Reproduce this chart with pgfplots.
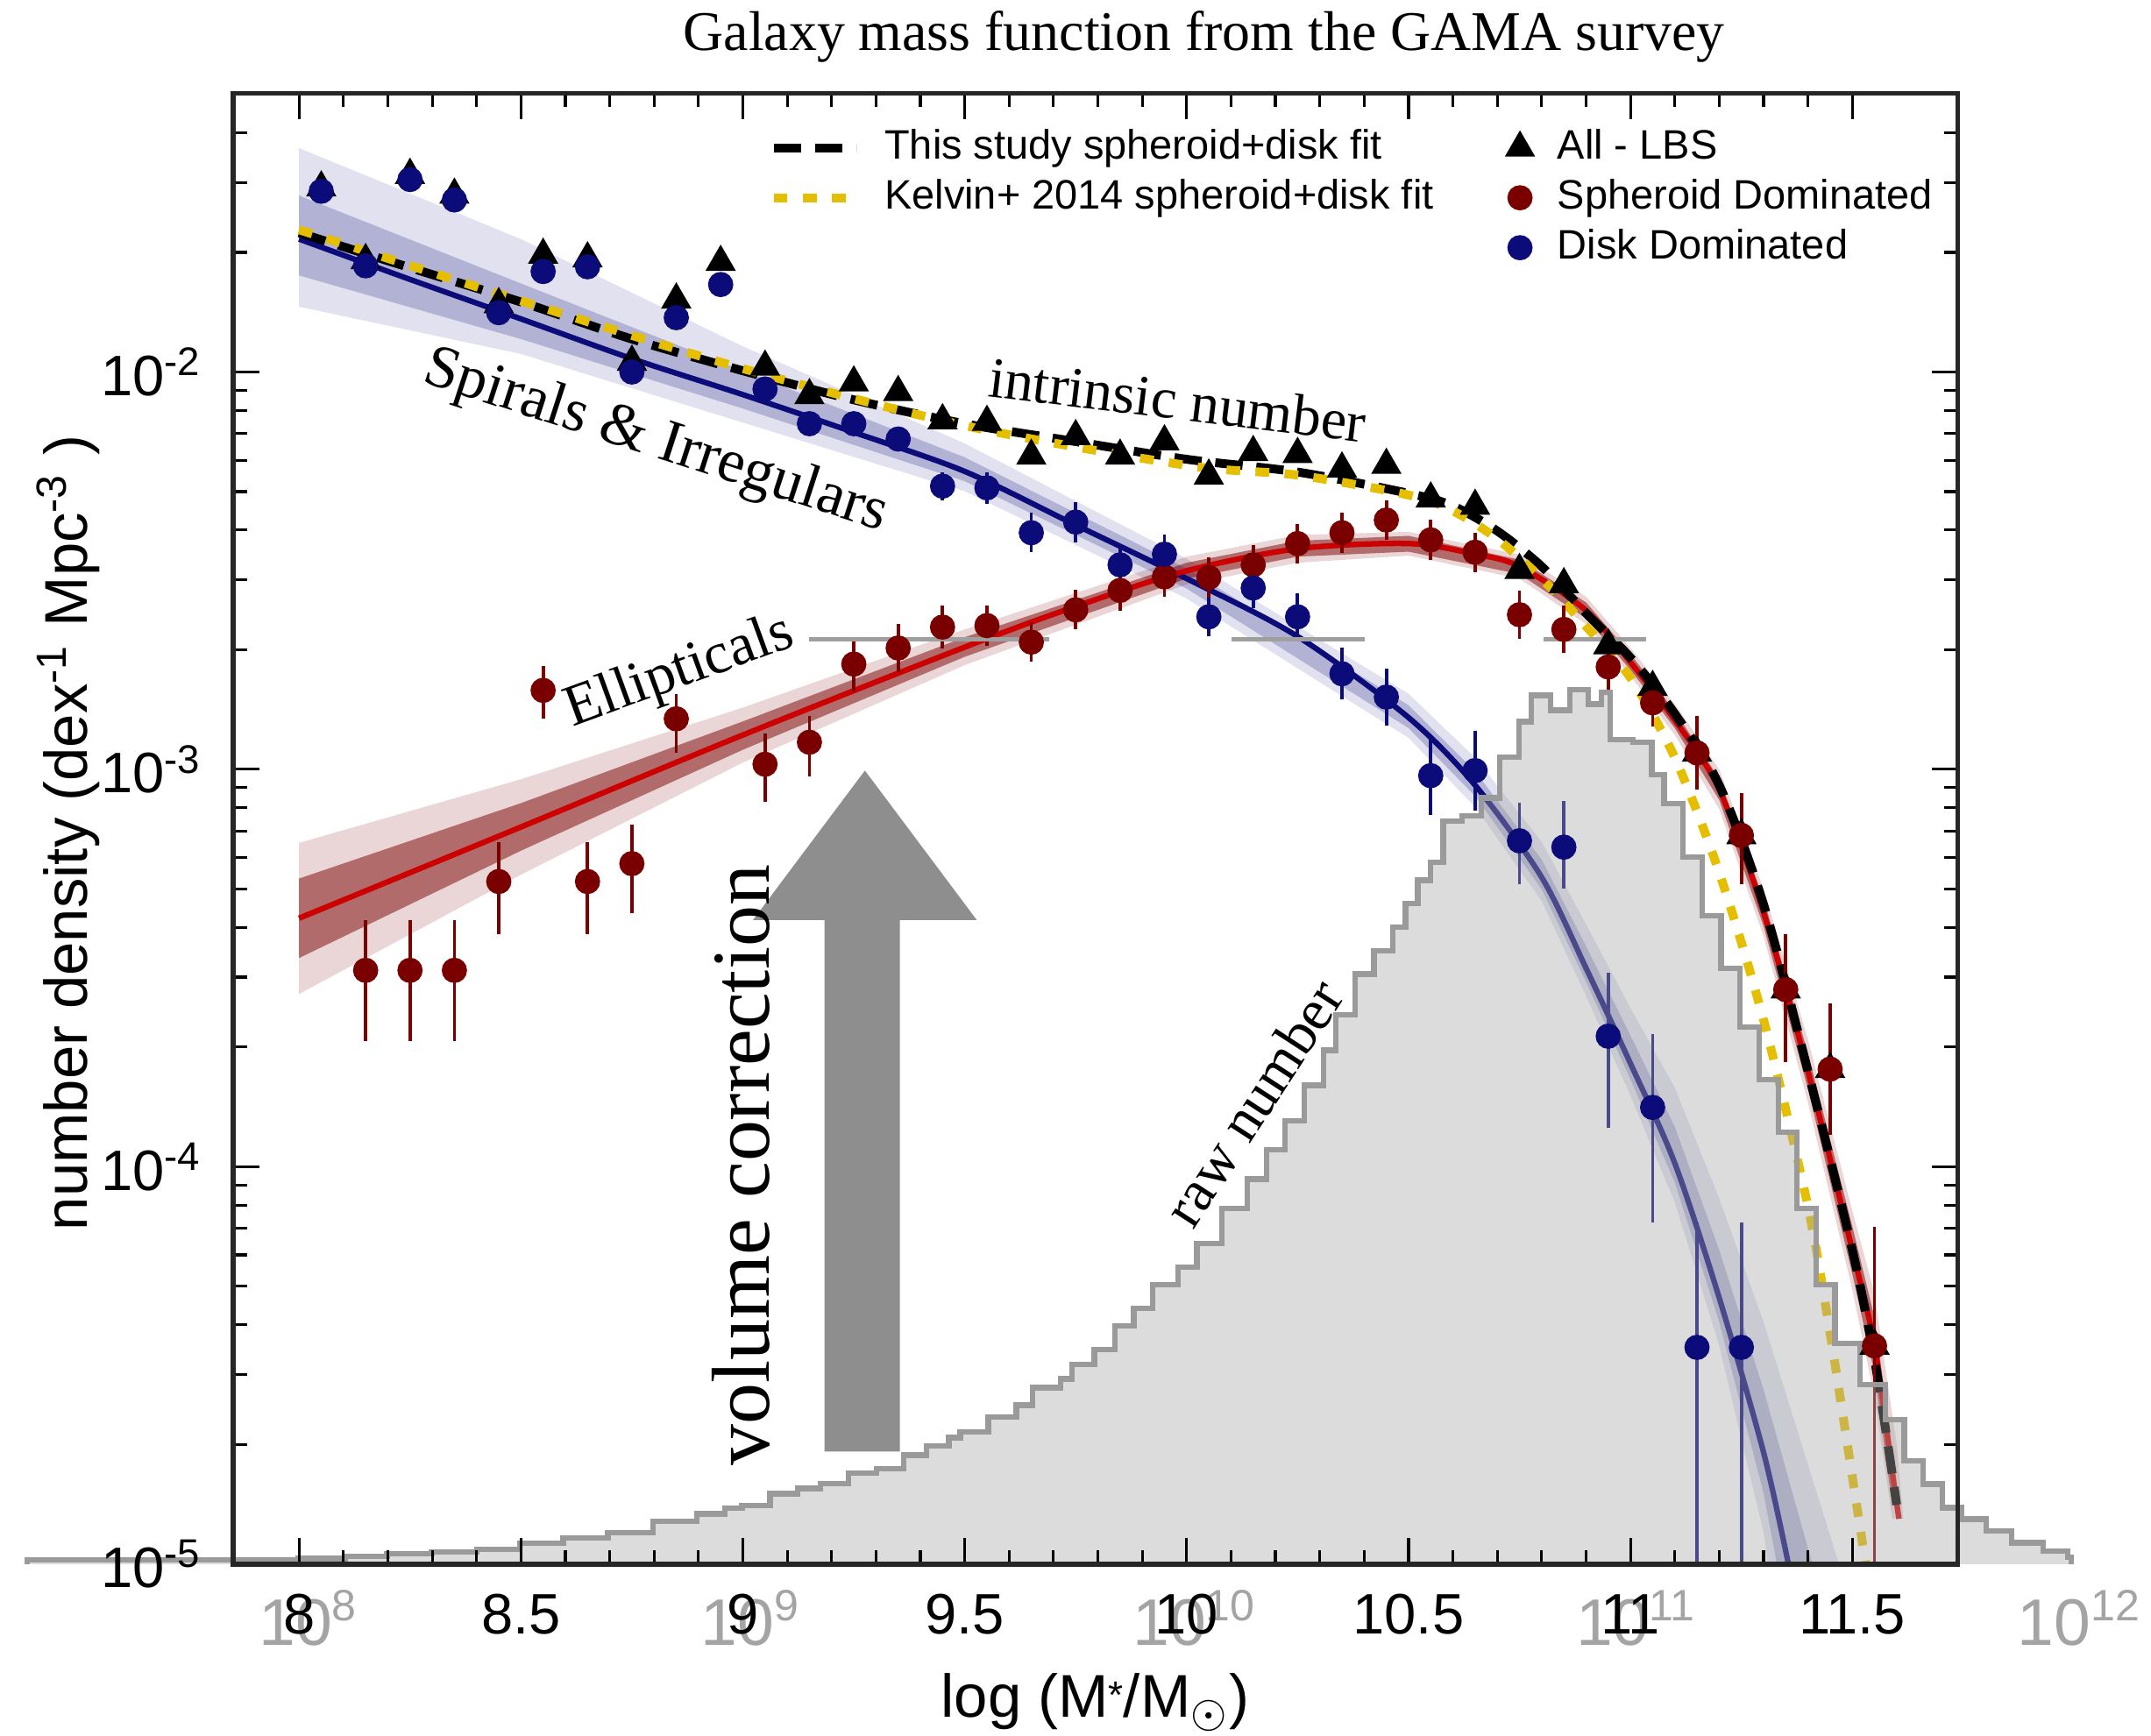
\documentclass[border=0pt]{standalone}
\usepackage{pgfplots}
\pgfplotsset{compat=1.18}
\usepackage{pgfplotstable}
\usepackage{fontspec}
\setmainfont{Liberation Serif}
\newfontfamily\sansf{Liberation Sans}
\definecolor{navyb}{HTML}{0B0B7A}
\definecolor{maroonr}{HTML}{7A0000}
\definecolor{redline}{HTML}{CC0000}
\definecolor{goldy}{HTML}{E6BE00}
\definecolor{histg}{HTML}{A8A8A8}
\definecolor{histline}{HTML}{9A9A9A}
\definecolor{arrowg}{HTML}{8E8E8E}
\definecolor{lab}{HTML}{A4A4A4}
\pgfplotsset{
  linelegend/.style={legend image code/.code={\draw[##1] (0pt,0pt) -- (15pt,0pt);}},
  marklegend/.style={legend image code/.code={\draw[##1] plot coordinates {(0pt,0pt)};}},
}

\pgfplotstableread{
x y
7.388 1.000e-5
7.388 1.023e-5
7.997 1.033e-5
8.104 1.047e-5
8.198 1.062e-5
8.299 1.074e-5
8.400 1.089e-5
8.498 1.127e-5
8.595 1.164e-5
8.696 1.199e-5
8.797 1.279e-5
8.897 1.337e-5
8.960 1.380e-5
8.998 1.406e-5
9.061 1.503e-5
9.124 1.549e-5
9.175 1.596e-5
9.238 1.694e-5
9.301 1.738e-5
9.363 1.879e-5
9.414 1.982e-5
9.464 2.080e-5
9.490 2.153e-5
9.553 2.344e-5
9.616 2.512e-5
9.653 2.780e-5
9.716 2.924e-5
9.741 3.184e-5
9.792 3.467e-5
9.838 3.981e-5
9.881 4.406e-5
9.923 5.047e-5
9.981 5.585e-5
10.023 6.397e-5
10.080 7.852e-5
10.137 9.311e-5
10.180 1.102e-4
10.222 1.306e-4
10.265 1.603e-4
10.308 1.963e-4
10.336 2.410e-4
10.379 3.055e-4
10.422 3.499e-4
10.464 4.009e-4
10.493 4.592e-4
10.521 5.260e-4
10.550 5.834e-4
10.578 7.396e-4
10.621 7.638e-4
10.664 8.472e-4
10.706 1.074e-3
10.749 1.318e-3
10.777 1.535e-3
10.820 1.409e-3
10.863 1.589e-3
10.905 1.459e-3
10.934 1.560e-3
10.955 1.189e-3
11.005 1.169e-3
11.048 9.705e-4
11.076 8.185e-4
11.119 6.026e-4
11.162 4.285e-4
11.204 3.162e-4
11.247 2.249e-4
11.290 1.656e-4
11.333 1.222e-4
11.375 7.852e-5
11.418 5.047e-5
11.461 3.589e-5
11.518 2.831e-5
11.575 2.307e-5
11.617 1.820e-5
11.660 1.589e-5
11.703 1.387e-5
11.746 1.297e-5
11.802 1.211e-5
11.859 1.132e-5
11.930 1.076e-5
11.986 1.040e-5
11.994 1.000e-5
}\histtab

\begin{document}
\begin{tikzpicture}
\begin{axis}[
  width=314.25pt, height=268.1pt, scale only axis,
  xmin=7.8516, xmax=11.7372,
  ymode=log, ymin=1e-5, ymax=0.0503,
  clip=false, axis on top,
  xtick={8,8.5,9,9.5,10,10.5,11,11.5},
  xticklabels={8,8.5,9,9.5,10,10.5,11,11.5},
  minor x tick num=4,
  ytick={1e-5,1e-4,1e-3,1e-2},
  yticklabels={10\textsuperscript{-5},10\textsuperscript{-4},10\textsuperscript{-3},10\textsuperscript{-2}},
  minor ytick={2e-5,3e-5,4e-5,5e-5,6e-5,7e-5,8e-5,9e-5,2e-4,3e-4,4e-4,5e-4,6e-4,7e-4,8e-4,9e-4,2e-3,3e-3,4e-3,5e-3,6e-3,7e-3,8e-3,9e-3,2e-2,3e-2,4e-2},
  tick label style={font=\sansf\fontsize{10.4}{12}\selectfont},
  xticklabel shift=2pt, yticklabel shift=2pt,
  major tick length=4.75pt, minor tick length=2.5pt,
  tick style={black, line width=0.5pt},
  axis line style={line width=0.9pt, black!85},
  xlabel={log (M\raisebox{0.3ex}{\scriptsize *}/M\textsubscript{$\odot$})},
  xlabel style={font=\sansf\fontsize{11}{13}\selectfont, at={(axis description cs:0.5,-0.0941)}, anchor=center},
  ylabel={number density (dex\textsuperscript{-1} Mpc\textsuperscript{-3} )},
  ylabel style={font=\sansf\fontsize{11}{13}\selectfont, at={(axis description cs:-0.0957,0.497)}, anchor=center},
  title={Galaxy mass function from the GAMA survey},
  every axis title shift=0pt,
  title style={font=\fontsize{10.2}{12}\selectfont, at={(axis description cs:0.563,1.0382)}, anchor=center},
  legend columns=2,
  legend cell align=left,
  legend style={draw=none, fill=none, inner sep=0pt, at={(rel axis cs:0.3103,0.980)}, anchor=north west,
    font=\sansf\fontsize{7.5}{9}\selectfont,
    nodes={inner sep=0.8pt, text height=5.6pt, text depth=1.6pt},
    row sep=0.3pt,
    /tikz/every odd column/.append style={column sep=3.6pt},
    /tikz/every even column/.append style={column sep=12.5pt}},
]
% ---- blue bands
\addplot[draw=none, fill=navyb, fill opacity=0.12, forget plot] coordinates {
(8.0,3.66e-2) (8.5,2.16e-2) (9.0,1.16e-2) (9.5,6.61e-3) (10.0,3.39e-3) (10.5,1.55e-3) (10.65,1.07e-3) (10.8,6.58e-4) (10.9,4.07e-4) (11.0,2.51e-4) (11.1,1.58e-4) (11.2,8.32e-5) (11.3,4.07e-5) (11.4,1.78e-5) (11.47,1e-5)
(11.31,1e-5) (11.3,1.20e-5) (11.2,3.55e-5) (11.1,8.13e-5) (11.0,1.51e-4) (10.9,2.69e-4) (10.8,4.66e-4) (10.65,8.04e-4) (10.5,1.20e-3) (10.0,2.69e-3) (9.5,5.01e-3) (9.0,7.46e-3) (8.5,1.11e-2) (8.0,1.46e-2)} --cycle;
\addplot[draw=none, fill=navyb, fill opacity=0.22, forget plot] coordinates {
(8.0,2.78e-2) (8.5,1.67e-2) (9.0,1.007e-2) (9.5,6.10e-3) (10.0,3.20e-3) (10.5,1.45e-3) (10.65,9.89e-4) (10.8,5.93e-4) (10.9,3.59e-4) (11.0,2.14e-4) (11.1,1.26e-4) (11.2,6.17e-5) (11.3,2.75e-5) (11.41,1e-5)
(11.33,1e-5) (11.3,1.51e-5) (11.2,4.07e-5) (11.1,9.12e-5) (11.0,1.66e-4) (10.9,2.92e-4) (10.8,4.99e-4) (10.65,8.57e-4) (10.5,1.27e-3) (10.0,2.85e-3) (9.5,5.31e-3) (9.0,8.09e-3) (8.5,1.21e-2) (8.0,1.75e-2)} --cycle;
% ---- red bands
\addplot[draw=none, fill=maroonr, fill opacity=0.16, forget plot] coordinates {
(8.0,6.53e-4) (8.5,9.44e-4) (9.0,1.43e-3) (9.5,2.25e-3) (10.0,3.43e-3) (10.25,3.89e-3) (10.5,3.96e-3) (10.75,3.47e-3) (10.9,2.72e-3) (11.0,2.02e-3) (11.1,1.46e-3) (11.2,1.00e-3) (11.3,5.01e-4) (11.4,2.09e-4) (11.5,7.76e-5) (11.55,4.79e-5) (11.6,2.0e-5) (11.615,1.3e-5)
(11.59,1.3e-5) (11.55,2.63e-5) (11.5,4.90e-5) (11.4,1.45e-4) (11.3,3.80e-4) (11.2,7.94e-4) (11.1,1.22e-3) (11.0,1.72e-3) (10.9,2.32e-3) (10.75,3.02e-3) (10.5,3.45e-3) (10.25,3.31e-3) (10.0,2.92e-3) (9.5,1.83e-3) (9.0,1.04e-3) (8.5,5.43e-4) (8.0,2.72e-4)} --cycle;
\addplot[draw=none, fill=maroonr, fill opacity=0.5, forget plot] coordinates {
(8.0,5.31e-4) (8.5,8.22e-4) (9.0,1.32e-3) (9.5,2.15e-3) (10.0,3.31e-3) (10.25,3.76e-3) (10.5,3.87e-3) (10.75,3.37e-3) (10.9,2.63e-3) (11.0,1.95e-3) (11.1,1.40e-3) (11.2,9.48e-4) (11.3,4.73e-4) (11.4,1.93e-4) (11.5,7.08e-5) (11.55,4.17e-5) (11.6,1.6e-5)
(11.59,1.4e-5) (11.55,3.02e-5) (11.5,5.37e-5) (11.4,1.57e-4) (11.3,4.03e-4) (11.2,8.38e-4) (11.1,1.27e-3) (11.0,1.78e-3) (10.9,2.40e-3) (10.75,3.10e-3) (10.5,3.53e-3) (10.25,3.43e-3) (10.0,3.02e-3) (9.5,1.92e-3) (9.0,1.12e-3) (8.5,6.24e-4) (8.0,3.35e-4)} --cycle;
% ---- fit lines
\addplot[navyb, line width=1pt, smooth, tension=0.5, forget plot] coordinates {
(8.0,2.16e-2) (8.25,1.71e-2) (8.5,1.36e-2) (8.75,1.08e-2) (9.0,8.77e-3) (9.25,7.05e-3) (9.5,5.62e-3) (9.75,4.12e-3) (10.0,3.02e-3) (10.25,2.16e-3) (10.5,1.35e-3) (10.65,9.12e-4) (10.8,5.35e-4) (10.9,3.16e-4) (11.0,1.82e-4) (11.1,1.02e-4) (11.2,4.68e-5) (11.3,1.91e-5) (11.356,1e-5)};
\addplot[redline, line width=1pt, smooth, tension=0.5, forget plot] coordinates {
(8.0,4.22e-4) (8.5,7.16e-4) (9.0,1.22e-3) (9.5,2.03e-3) (9.75,2.57e-3) (10.0,3.16e-3) (10.25,3.59e-3) (10.5,3.70e-3) (10.65,3.48e-3) (10.75,3.24e-3) (10.9,2.51e-3) (11.0,1.86e-3) (11.1,1.33e-3) (11.2,8.91e-4) (11.3,4.37e-4) (11.4,1.74e-4) (11.5,6.17e-5) (11.55,3.55e-5) (11.59,1.70e-5) (11.605,1.3e-5)};
\addplot[black, line width=1.6pt, dash pattern=on 5pt off 2.5pt, smooth, tension=0.5, forget plot] coordinates {
(8.0,2.24e-2) (8.25,1.83e-2) (8.5,1.50e-2) (8.75,1.21e-2) (9.0,1.007e-2) (9.25,8.51e-3) (9.5,7.41e-3) (9.75,6.68e-3) (10.0,6.03e-3) (10.25,5.60e-3) (10.5,4.95e-3) (10.6,4.60e-3) (10.7,3.98e-3) (10.8,3.24e-3) (10.9,2.47e-3) (11.0,1.91e-3) (11.1,1.38e-3) (11.2,9.12e-4) (11.3,4.57e-4) (11.4,1.74e-4) (11.5,6.17e-5) (11.55,3.27e-5) (11.58,2.0e-5) (11.6,1.41e-5)};
\addplot[goldy, line width=1.6pt, dash pattern=on 2.5pt off 2.8pt, smooth, tension=0.5, forget plot] coordinates {
(8.0,2.28e-2) (8.5,1.51e-2) (9.0,1.02e-2) (9.5,7.33e-3) (10.0,5.82e-3) (10.25,5.50e-3) (10.5,4.90e-3) (10.6,4.47e-3) (10.7,3.80e-3) (10.8,3.02e-3) (10.9,2.29e-3) (11.0,1.70e-3) (11.1,1.07e-3) (11.2,5.50e-4) (11.3,2.34e-4) (11.4,7.94e-5) (11.45,3.80e-5) (11.5,1.66e-5) (11.53,1.0e-5)};
% ---- error bars
\addplot[navyb, line width=0.6pt, unbounded coords=jump, forget plot] coordinates {
(9.45,4.76e-3) (9.45,5.60e-3) (9.45,nan)
(9.55,4.66e-3) (9.55,5.60e-3) (9.55,nan)
(9.65,3.52e-3) (9.65,4.43e-3) (9.65,nan)
(9.75,3.73e-3) (9.75,4.70e-3) (9.75,nan)
(9.85,2.91e-3) (9.85,3.66e-3) (9.85,nan)
(9.95,3.10e-3) (9.95,3.90e-3) (9.95,nan)
(10.05,2.16e-3) (10.05,2.72e-3) (10.05,nan)
(10.15,2.55e-3) (10.15,3.21e-3) (10.15,nan)
(10.25,2.11e-3) (10.25,2.78e-3) (10.25,nan)
(10.35,1.50e-3) (10.35,2.02e-3) (10.35,nan)
(10.45,1.29e-3) (10.45,1.79e-3) (10.45,nan)
(10.55,7.66e-4) (10.55,1.21e-3) (10.55,nan)
(10.65,7.89e-4) (10.65,1.25e-3) (10.65,nan)
(10.75,5.13e-4) (10.75,8.26e-4) (10.75,nan)
(10.85,5.01e-4) (10.85,8.32e-4) (10.85,nan)
(10.95,1.25e-4) (10.95,3.08e-4) (10.95,nan)
(11.05,7.23e-5) (11.05,2.16e-4) (11.05,nan)
(11.15,1e-5) (11.15,7.23e-5) (11.15,nan)
(11.25,1e-5) (11.25,7.23e-5)};
\addplot[maroonr, line width=0.6pt, unbounded coords=jump, forget plot] coordinates {
(8.15,2.07e-4) (8.15,4.18e-4) (8.15,nan)
(8.25,2.07e-4) (8.25,4.18e-4) (8.25,nan)
(8.35,2.07e-4) (8.35,4.18e-4) (8.35,nan)
(8.45,3.84e-4) (8.45,6.55e-4) (8.45,nan)
(8.55,1.34e-3) (8.55,1.82e-3) (8.55,nan)
(8.65,3.84e-4) (8.65,6.55e-4) (8.65,nan)
(8.75,4.34e-4) (8.75,7.26e-4) (8.75,nan)
(8.85,1.10e-3) (8.85,1.55e-3) (8.85,nan)
(9.05,8.28e-4) (9.05,1.23e-3) (9.05,nan)
(9.15,9.62e-4) (9.15,1.36e-3) (9.15,nan)
(9.25,1.57e-3) (9.25,2.12e-3) (9.25,nan)
(9.35,1.76e-3) (9.35,2.32e-3) (9.35,nan)
(9.45,2.01e-3) (9.45,2.59e-3) (9.45,nan)
(9.55,2.05e-3) (9.55,2.58e-3) (9.55,nan)
(9.65,1.87e-3) (9.65,2.35e-3) (9.65,nan)
(9.75,2.25e-3) (9.75,2.83e-3) (9.75,nan)
(9.85,2.51e-3) (9.85,3.16e-3) (9.85,nan)
(9.95,2.72e-3) (9.95,3.42e-3) (9.95,nan)
(10.05,2.71e-3) (10.05,3.41e-3) (10.05,nan)
(10.15,2.91e-3) (10.15,3.66e-3) (10.15,nan)
(10.25,3.30e-3) (10.25,4.15e-3) (10.25,nan)
(10.35,3.51e-3) (10.35,4.42e-3) (10.35,nan)
(10.45,3.78e-3) (10.45,4.75e-3) (10.45,nan)
(10.55,3.37e-3) (10.55,4.25e-3) (10.55,nan)
(10.65,3.13e-3) (10.65,3.94e-3) (10.65,nan)
(10.75,2.13e-3) (10.75,2.81e-3) (10.75,nan)
(10.85,1.96e-3) (10.85,2.59e-3) (10.85,nan)
(10.95,1.58e-3) (10.95,2.08e-3) (10.95,nan)
(11.05,1.28e-3) (11.05,1.68e-3) (11.05,nan)
(11.15,8.91e-4) (11.15,1.36e-3) (11.15,nan)
(11.25,5.13e-4) (11.25,8.73e-4) (11.25,nan)
(11.35,1.83e-4) (11.35,3.85e-4) (11.35,nan)
(11.45,1.20e-4) (11.45,2.57e-4) (11.45,nan)
(11.55,1e-5) (11.55,7.05e-5)};
% ---- markers
\addplot[only marks, mark=triangle*, mark size=2.8pt, black, forget plot] coordinates {
(8.05,2.91e-2) (8.15,1.91e-2) (8.25,3.13e-2) (8.35,2.79e-2) (8.45,1.48e-2) (8.55,1.97e-2) (8.65,1.93e-2) (8.75,1.06e-2) (8.85,1.52e-2) (8.95,1.89e-2)
(9.05,1.03e-2) (9.15,8.73e-3) (9.25,9.40e-3) (9.35,8.89e-3) (9.45,7.55e-3) (9.55,7.48e-3) (9.65,6.15e-3) (9.75,6.89e-3) (9.85,6.15e-3) (9.95,6.68e-3)
(10.05,5.48e-3) (10.15,6.28e-3) (10.25,6.21e-3) (10.35,5.71e-3) (10.45,5.83e-3) (10.55,4.80e-3) (10.65,4.60e-3) (10.75,3.17e-3) (10.85,2.92e-3) (10.95,2.05e-3)
(11.05,1.61e-3) (11.15,1.10e-3) (11.25,6.82e-4) (11.35,2.79e-4) (11.45,1.76e-4) (11.55,3.54e-5)};
\addplot[only marks, mark=*, mark size=2.1pt, maroonr, forget plot] coordinates {
(8.15,3.12e-4) (8.25,3.12e-4) (8.35,3.12e-4) (8.45,5.22e-4) (8.55,1.58e-3) (8.65,5.22e-4) (8.75,5.79e-4) (8.85,1.34e-3) (9.05,1.03e-3) (9.15,1.17e-3)
(9.25,1.84e-3) (9.35,2.02e-3) (9.45,2.28e-3) (9.55,2.30e-3) (9.65,2.09e-3) (9.75,2.52e-3) (9.85,2.82e-3) (9.95,3.05e-3) (10.05,3.04e-3) (10.15,3.27e-3)
(10.25,3.70e-3) (10.35,3.94e-3) (10.45,4.24e-3) (10.55,3.78e-3) (10.65,3.52e-3) (10.75,2.45e-3) (10.85,2.25e-3) (10.95,1.81e-3) (11.05,1.47e-3) (11.15,1.10e-3)
(11.25,6.82e-4) (11.35,2.79e-4) (11.45,1.76e-4) (11.55,3.54e-5)};
\addplot[only marks, mark=*, mark size=2.1pt, navyb, forget plot] coordinates {
(8.05,2.85e-2) (8.15,1.85e-2) (8.25,3.05e-2) (8.35,2.71e-2) (8.45,1.41e-2) (8.55,1.79e-2) (8.65,1.84e-2) (8.75,1.00e-2) (8.85,1.37e-2) (8.95,1.66e-2)
(9.05,9.06e-3) (9.15,7.41e-3) (9.25,7.41e-3) (9.35,6.78e-3) (9.45,5.16e-3) (9.55,5.11e-3) (9.65,3.94e-3) (9.75,4.19e-3) (9.85,3.27e-3) (9.95,3.48e-3)
(10.05,2.42e-3) (10.15,2.86e-3) (10.25,2.42e-3) (10.35,1.74e-3) (10.45,1.52e-3) (10.55,9.64e-4) (10.65,9.93e-4) (10.75,6.61e-4) (10.85,6.37e-4) (10.95,2.13e-4)
(11.05,1.41e-4) (11.15,3.51e-5) (11.25,3.51e-5)};
% ---- raw-number histogram (drawn over, translucent)
\addplot[const plot, draw=none, fill=histg, fill opacity=0.4, forget plot] table {\histtab} --cycle;
\addplot[const plot, histline, line width=1pt, forget plot] table {\histtab};
% ---- artefact lines of the composite
\draw[gray!75, line width=0.8pt] (axis cs:9.150,2.13e-3) -- (axis cs:9.691,2.13e-3);
\draw[gray!75, line width=0.8pt] (axis cs:10.102,2.13e-3) -- (axis cs:10.402,2.13e-3);
\draw[gray!75, line width=0.8pt] (axis cs:10.804,2.13e-3) -- (axis cs:11.036,2.13e-3);
% ---- volume-correction arrow
\fill[arrowg] (axis cs:9.184,1.919e-5) -- (axis cs:9.184,4.178e-4) -- (axis cs:9.023,4.178e-4) -- (axis cs:9.275,9.93e-4) -- (axis cs:9.527,4.178e-4) -- (axis cs:9.354,4.178e-4) -- (axis cs:9.354,1.919e-5) -- cycle;
% ---- annotations
\node[rotate=-7, font=\fontsize{10.5}{12}\selectfont] at (axis cs:9.980,8.51e-3) {intrinsic number};
\node[rotate=-18, font=\fontsize{11.1}{13}\selectfont] at (axis cs:8.803,6.65e-3) {Spirals \& Irregulars};
\node[rotate=20, font=\fontsize{10.7}{12}\selectfont] at (axis cs:8.858,1.75e-3) {Ellipticals};
\node[rotate=90, font=\fontsize{15}{17}\selectfont] at (axis cs:8.995,1.007e-4) {volume correction};
\node[rotate=57, font=\fontsize{10.6}{12}\selectfont] at (axis cs:10.15,1.45e-4) {raw number};
% ---- grey secondary mass labels
\node[anchor=base west, inner sep=0pt, text=lab, font=\sansf\fontsize{12}{14}\selectfont, yshift=-14.75pt] at (axis cs:7.907,1e-5) {10\textsuperscript{8}};
\node[anchor=base west, inner sep=0pt, text=lab, font=\sansf\fontsize{12}{14}\selectfont, yshift=-14.75pt] at (axis cs:8.903,1e-5) {10\textsuperscript{9}};
\node[anchor=base west, inner sep=0pt, text=lab, font=\sansf\fontsize{12}{14}\selectfont, yshift=-14.75pt] at (axis cs:9.876,1e-5) {10\textsuperscript{10}};
\node[anchor=base west, inner sep=0pt, text=lab, font=\sansf\fontsize{12}{14}\selectfont, yshift=-14.75pt] at (axis cs:10.875,1e-5) {10\textsuperscript{11}};
\node[anchor=base west, inner sep=0pt, text=lab, font=\sansf\fontsize{12}{14}\selectfont, yshift=-14.75pt] at (axis cs:11.870,1e-5) {10\textsuperscript{12}};
% ---- legend
\addlegendimage{black, line width=1.6pt, dash pattern=on 5pt off 2.5pt, linelegend}
\addlegendentry{This study spheroid+disk fit}
\addlegendimage{only marks, mark=triangle*, mark size=2.8pt, black, marklegend}
\addlegendentry{All - LBS}
\addlegendimage{goldy, line width=1.6pt, dash pattern=on 2.5pt off 2.8pt, linelegend}
\addlegendentry{Kelvin+ 2014 spheroid+disk fit}
\addlegendimage{only marks, mark=*, mark size=2.1pt, maroonr, marklegend}
\addlegendentry{Spheroid Dominated}
\addlegendimage{empty legend}
\addlegendentry{}
\addlegendimage{only marks, mark=*, mark size=2.1pt, navyb, marklegend}
\addlegendentry{Disk Dominated}
\coordinate (bbBL) at (rel axis cs:-0.13524,-0.11649);
\coordinate (bbTR) at (rel axis cs:1.11217,1.06337);
\end{axis}
\pgfresetboundingbox
\path (bbBL) rectangle (bbTR);
\end{tikzpicture}
\end{document}
